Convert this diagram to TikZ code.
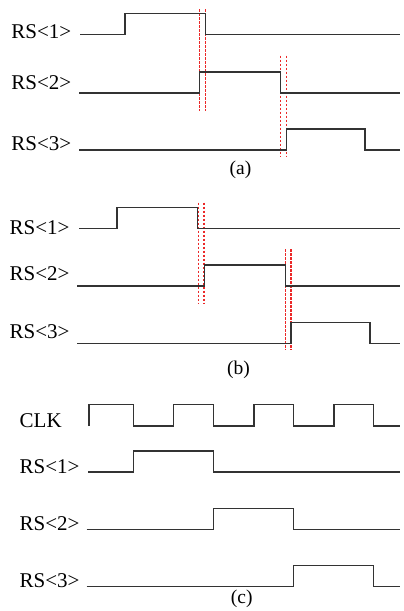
\documentclass[tikz,border=0pt]{standalone}
\usepackage{fontspec}
\setmainfont{Liberation Serif}
\usepackage{tikz}

\definecolor{gapred}{RGB}{235,40,40}

\tikzset{
  sig/.style={line width=1.4pt,black!80,line join=miter},
  gap/.style={draw=gapred,dash pattern=on 2.5pt off 1.5pt,line width=1.1pt},
  lbl/.style={anchor=base west,inner sep=0pt,font=\fontsize{21}{25}\selectfont},
  subcap/.style={anchor=base,inner sep=0pt,font=\fontsize{19.5}{23}\selectfont}
}

\begin{document}
\begin{tikzpicture}[x=1pt,y=-1pt]
  \useasboundingbox (0,0) rectangle (404,611);

  % (a)
  \node[lbl] (a1) at (11.2,38) {RS<1>};
  \node[lbl] (a2) at (11.2,89.5) {RS<2>};
  \node[lbl] (a3) at (11.2,150) {RS<3>};
  \foreach \x in {199.7,205.3}{
    \draw[gap] (\x,9.3) -- (\x,110.7);
  }
  \foreach \x in {280.3,286.7}{
    \draw[gap] (\x,55.7) -- (\x,157.3);
  }
  \foreach \s/\y/\r/\f in {80/34.7/125/205.3, 79/93/199.7/280.3, 79/150/286.7/365}{
    \draw[sig] (\s,\y) -- (\r,\y) -- (\r,\y-21) -- (\f,\y-21) -- (\f,\y) -- (400,\y);
  }
  \node[subcap] (capa) at (240.5,174) {(a)};

  % (b)
  \node[lbl] (b1) at (9.5,234.3) {RS<1>};
  \node[lbl] (b2) at (9.5,280) {RS<2>};
  \node[lbl] (b3) at (9.5,338.3) {RS<3>};
  \foreach \x in {198.3,204}{
    \draw[gap] (\x,202.7) -- (\x,304.3);
  }
  \foreach \x in {285.3,291}{
    \draw[gap] (\x,249) -- (\x,350);
  }
  \foreach \s/\y/\r/\f in {79.3/228.7/117/197.7, 77.3/286/204.7/285.3, 77/343.3/291/370}{
    \draw[sig] (\s,\y) -- (\r,\y) -- (\r,\y-21) -- (\f,\y-21) -- (\f,\y) -- (400,\y);
  }
  \node[subcap] (capb) at (238.5,374) {(b)};

  % (c)
  \node[lbl] (clk) at (19.5,427.7) {CLK};
  \node[lbl] (c1) at (19.5,473.7) {RS<1>};
  \node[lbl] (c2) at (19.5,530) {RS<2>};
  \node[lbl] (c3) at (19.5,587) {RS<3>};
  \draw[sig] (89,426) -- (89,404.7)
    \foreach \x in {133.3,213.7,293.7}{ -- (\x,404.7) -- (\x,426) -- (\x+40.4,426) -- (\x+40.4,404.7) }
    -- (373.7,404.7) -- (373.7,426) -- (400,426);
  \foreach \s/\y/\r/\f in {88.3/472/133.3/213.7, 86.7/529.7/213.7/293.7, 86.7/586.7/293.7/373.3}{
    \draw[sig] (\s,\y) -- (\r,\y) -- (\r,\y-21) -- (\f,\y-21) -- (\f,\y) -- (400,\y);
  }
  \node[subcap] (capc) at (241.7,603) {(c)};
\end{tikzpicture}
\end{document}
